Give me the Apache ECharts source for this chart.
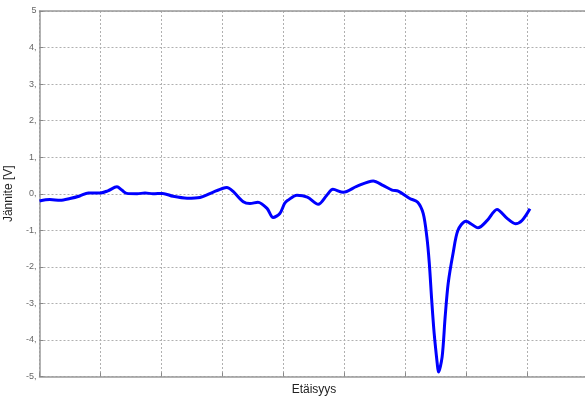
<!DOCTYPE html>
<html>
<head>
<meta charset="utf-8">
<script src="https://cdn.jsdelivr.net/npm/echarts@6/dist/echarts.min.js"></script>
<style>html,body{margin:0;padding:0;background:#fff;overflow:hidden}#c{width:600px;height:397px}</style>
</head>
<body>
<div id="c"></div>
<script>
// Distance (x, in grid units) and voltage (V)
const distance = [0, 0.17, 0.34, 0.5, 0.66, 0.8, 0.99, 1.12, 1.27, 1.35, 1.43, 1.6, 1.73, 1.86, 2.02, 2.19, 2.42, 2.63, 2.84, 3.01, 3.07, 3.17, 3.34, 3.45, 3.58, 3.73, 3.83, 3.94, 4.02, 4.07, 4.22, 4.39, 4.57, 4.71, 4.81, 4.98, 5.2, 5.47, 5.63, 5.78, 5.88, 6.07, 6.2, 6.29, 6.35, 6.39, 6.43, 6.47, 6.52, 6.54, 6.6, 6.65, 6.7, 6.78, 6.86, 6.99, 7.19, 7.34, 7.5, 7.67, 7.8, 7.91, 8.04];
const voltage = [-0.2, -0.16, -0.18, -0.13, -0.06, 0.02, 0.02, 0.08, 0.19, 0.1, 0.01, 0.0, 0.02, 0.0, 0.01, -0.07, -0.12, -0.1, 0.04, 0.15, 0.17, 0.07, -0.22, -0.27, -0.23, -0.4, -0.65, -0.54, -0.26, -0.18, -0.04, -0.09, -0.29, -0.04, 0.12, 0.04, 0.2, 0.35, 0.23, 0.1, 0.07, -0.13, -0.23, -0.54, -1.18, -1.9, -2.92, -3.82, -4.64, -4.88, -4.47, -3.37, -2.45, -1.63, -1.0, -0.75, -0.93, -0.73, -0.43, -0.68, -0.82, -0.73, -0.41];
const yTicks = [-5, -4, -3, -2, -1, 0, 1, 2, 3, 4, 5];
const xTitle = 'Etäisyys';
const yTitle = 'Jännite [V]';

const chart = echarts.init(document.getElementById('c'), null, {renderer: 'canvas'});
const dotted = {show: true, lineStyle: {color: '#b0b0b0', type: [2, 2], width: 1}};
const axisLineStyle = {color: '#999', width: 1.5};
chart.setOption({
  animation: false,
  grid: {left: 39.5, top: 11, right: 11.5, bottom: 20.5, containLabel: false, outerBoundsMode: 'none', show: false},
  xAxis: [{
    type: 'value', min: 0, max: 9, interval: 1, position: 'bottom',
    name: xTitle, nameLocation: 'middle', nameGap: 7,
    nameTextStyle: {fontFamily: 'Liberation Sans', fontSize: 12, color: '#222'},
    axisLine: {show: true, onZero: false, lineStyle: axisLineStyle},
    axisTick: {show: true, inside: true, length: 4, lineStyle: {color: '#888'}},
    axisLabel: {show: false},
    splitLine: dotted
  }, {
    type: 'value', min: 0, max: 9, interval: 1, position: 'top',
    axisLine: {show: true, onZero: false, lineStyle: axisLineStyle},
    axisTick: {show: false}, axisLabel: {show: false}, splitLine: {show: false}
  }],
  yAxis: {
    type: 'value', min: yTicks[0], max: yTicks[yTicks.length - 1], interval: 1,
    name: yTitle, nameLocation: 'middle', nameGap: 18, nameRotate: 90,
    nameTextStyle: {fontFamily: 'Liberation Sans', fontSize: 12, color: '#222'},
    axisLine: {show: true, lineStyle: axisLineStyle},
    axisTick: {show: true, inside: true, length: 4, lineStyle: {color: '#888'}},
    axisLabel: {fontFamily: 'Liberation Sans', fontSize: 9, color: '#666', margin: 3,
      formatter: v => v === 5 ? '5' : v + ','},
    splitLine: dotted
  },
  series: [{
    type: 'line',
    xAxisIndex: 0,
    data: distance.map((d, i) => [d, voltage[i]]),
    smooth: 0.3,
    showSymbol: false,
    lineStyle: {color: '#0000ff', width: 3},
    clip: true
  }]
});
</script>
</body>
</html>
